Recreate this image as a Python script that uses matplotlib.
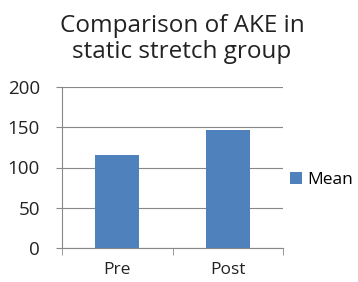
import numpy as np
import matplotlib.pyplot as plt

# data
categories = ['Pre', 'Post']
mean_values = [115, 146]
y_ticks = [0, 50, 100, 150, 200]

plt.rcParams['font.family'] = ['Open Sans', 'DejaVu Sans']

fig = plt.figure(figsize=(3.58, 2.82), dpi=100)
ax = fig.add_axes([62 / 358, 1 - 248 / 282, 221 / 358, 161 / 282])

x = np.arange(len(categories))
ax.bar(x, mean_values, width=0.4, color='#4f81bd', label='Mean', zorder=3)

ax.set_xlim(-0.5, len(categories) - 0.5)
ax.set_ylim(0, 200)
ax.set_yticks(y_ticks)
ax.set_yticklabels([str(v) for v in y_ticks], fontsize=13.5, color='#222222')
ax.set_xticks(x)
ax.set_xticklabels(categories, fontsize=12.5, color='#222222')
ax.tick_params(axis='x', length=0, pad=10)
ax.tick_params(axis='y', length=4, color='#888888', pad=12)

# tick marks between categories on x axis
ax.set_xticks([-0.5, 0.5, 1.5], minor=True)
ax.tick_params(axis='x', which='minor', length=5, color='#888888', direction='out')

ax.grid(axis='y', color='#888888', linewidth=0.8, zorder=0)
for s in ['top', 'right']:
    ax.spines[s].set_visible(False)
ax.spines['left'].set_color('#888888')
ax.spines['bottom'].set_color('#888888')

fig.text(182 / 358, 1 - 39 / 282, 'Comparison of AKE in\nstatic stretch group',
         ha='center', va='center', fontsize=17.5, color='#222222', linespacing=1.1)

ax.legend(loc='center left', bbox_to_anchor=(1.0, 0.42), frameon=False,
          fontsize=12.5, handlelength=0.7, handleheight=0.7, handletextpad=0.3,
          borderaxespad=0)

fig.savefig('out.png', dpi=100)
